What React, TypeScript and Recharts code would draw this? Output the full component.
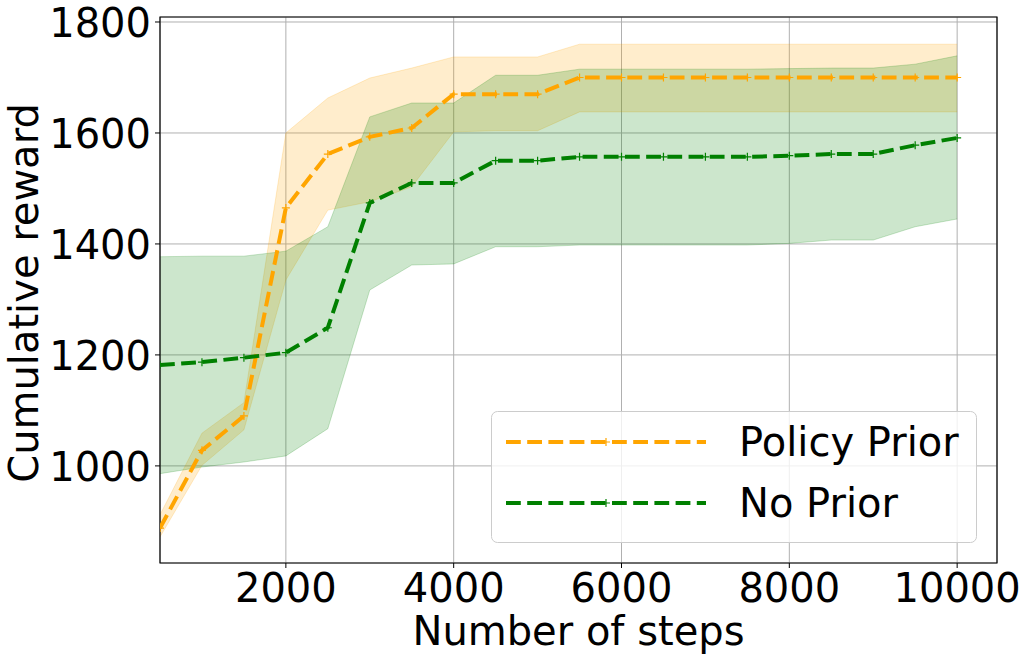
import React from 'react';
import { ComposedChart, Area, Line, XAxis, YAxis, CartesianGrid, ReferenceArea, Legend } from 'recharts';

const steps = [500, 1000, 1500, 2000, 2500, 3000, 3500, 4000, 4500, 5000, 5500, 6000, 6500, 7000, 7500, 8000, 8500, 9000, 9500, 10000];
const policyMean = [888, 1028, 1090, 1465, 1562, 1593, 1609, 1670, 1670, 1670, 1700, 1700, 1700, 1700, 1700, 1700, 1700, 1700, 1700, 1700];
const policyLow = [872, 1001, 1065, 1335, 1461, 1476, 1503, 1602, 1604, 1604, 1638, 1638, 1638, 1638, 1638, 1638, 1638, 1638, 1638, 1638];
const policyHigh = [912, 1059, 1114, 1600, 1663, 1699, 1717, 1737, 1737, 1737, 1760, 1760, 1760, 1760, 1760, 1760, 1760, 1760, 1760, 1760];
const noPriorMean = [1182, 1187, 1195, 1204, 1249, 1474, 1510, 1510, 1550, 1550, 1557, 1557, 1557, 1557, 1557, 1559, 1562, 1562, 1578, 1591];
const noPriorLow = [986, 998, 1007, 1018, 1067, 1317, 1362, 1364, 1395, 1395, 1398, 1398, 1398, 1398, 1398, 1401, 1407, 1407, 1431, 1445];
const noPriorHigh = [1377, 1378, 1378, 1387, 1431, 1629, 1654, 1654, 1704, 1704, 1715, 1715, 1715, 1715, 1715, 1716, 1717, 1717, 1724, 1739];

const xTicks = [2000, 4000, 6000, 8000, 10000];
const yTicks = [1000, 1200, 1400, 1600, 1800];
const seriesNames = ['Policy Prior', 'No Prior'];
const xLabel = 'Number of steps';
const yLabel = 'Cumulative reward';

const ORANGE = '#FFA500';
const GREEN = '#008000';
const FONT = 'DejaVu Sans';
const FS = 40;

const data = steps.map((s, i) => ({
  step: s,
  pMean: policyMean[i],
  pBand: [policyLow[i], policyHigh[i]],
  gMean: noPriorMean[i],
  gBand: [noPriorLow[i], noPriorHigh[i]],
}));

const plusDot = (color: string) => (props: any) => {
  const { cx, cy, index } = props;
  if (cx == null || cy == null) return <g key={index} />;
  return (
    <path key={index} d={`M${cx - 4},${cy}h8M${cx},${cy - 4}v8`} stroke={color} strokeWidth={1.2} fill="none" />
  );
};

const XTick = (props: any) => {
  const { x, y, payload } = props;
  return (
    <text x={x} y={y} dy={31} textAnchor="middle" fontFamily={FONT} fontSize={FS} fill="#000">
      {payload.value}
    </text>
  );
};

const YTick = (props: any) => {
  const { x, y, payload } = props;
  return (
    <text x={x} y={y} dy={15} textAnchor="end" fontFamily={FONT} fontSize={FS} fill="#000">
      {payload.value}
    </text>
  );
};

const XLabel = (props: any) => {
  const vb = props.viewBox || {};
  const cx = (vb.x ?? 160) + (vb.width ?? 837) / 2;
  return (
    <text x={cx} y={645} textAnchor="middle" fontFamily={FONT} fontSize={FS} fill="#000">
      {xLabel}
    </text>
  );
};

const YLabel = (props: any) => {
  const vb = props.viewBox || {};
  const cy = (vb.y ?? 17) + (vb.height ?? 546) / 2 + 3;
  return (
    <text x={38} y={cy} transform={`rotate(-90, 38, ${cy})`} textAnchor="middle" fontFamily={FONT} fontSize={FS} fill="#000">
      {yLabel}
    </text>
  );
};

const LegendBox = () => {
  const colors = [ORANGE, GREEN];
  return (
    <svg width={487} height={133} style={{ display: 'block' }}>
      <rect x={0.5} y={0.5} width={485} height={131} rx={6} ry={6} fill="rgba(255,255,255,0.8)" stroke="#cccccc" strokeWidth={1} />
      {seriesNames.map((n, i) => {
        const y = 31 + i * 61;
        return (
          <g key={n}>
            <line x1={15} x2={215} y1={y} y2={y} stroke={colors[i]} strokeWidth={4} strokeDasharray="14.8 6.4" />
            <path d={`M${111},${y}h8M${115},${y - 4}v8`} stroke={colors[i]} strokeWidth={1.2} />
            <text x={248} y={y + 14} fontFamily={FONT} fontSize={FS} fill="#000">{n}</text>
          </g>
        );
      })}
    </svg>
  );
};

export default function App() {
  return (
    <div style={{ position: 'absolute', left: 0, top: 0, width: 1028, height: 661, background: '#fff' }}>
      <ComposedChart width={1028} height={661} data={data} margin={{ top: 17, right: 31, left: 0, bottom: 0 }}>
        <CartesianGrid stroke="#b0b0b0" strokeWidth={1} />
        <XAxis
          dataKey="step"
          type="number"
          domain={[500, 10475]}
          ticks={xTicks}
          allowDataOverflow
          height={98}
          tickSize={5}
          tickMargin={3}
          tickLine={{ stroke: '#000' }}
          axisLine={false}
          tick={<XTick />}
          label={<XLabel />}
        />
        <YAxis
          type="number"
          domain={[825, 1809]}
          ticks={yTicks}
          allowDataOverflow
          width={160}
          tickSize={5}
          tickMargin={4}
          tickLine={{ stroke: '#000' }}
          axisLine={false}
          tick={<YTick />}
          label={<YLabel />}
        />
        <Area dataKey="pBand" type="linear" fill={ORANGE} fillOpacity={0.2} stroke={ORANGE} strokeOpacity={0.2} strokeWidth={1} isAnimationActive={false} legendType="none" activeDot={false} />
        <Area dataKey="gBand" type="linear" fill={GREEN} fillOpacity={0.2} stroke={GREEN} strokeOpacity={0.2} strokeWidth={1} isAnimationActive={false} legendType="none" activeDot={false} />
        <Line dataKey="pMean" name={seriesNames[0]} type="linear" stroke={ORANGE} strokeWidth={4} strokeDasharray="14.8 6.4" dot={plusDot(ORANGE)} activeDot={false} isAnimationActive={false} />
        <Line dataKey="gMean" name={seriesNames[1]} type="linear" stroke={GREEN} strokeWidth={4} strokeDasharray="14.8 6.4" dot={plusDot(GREEN)} activeDot={false} isAnimationActive={false} />
        <ReferenceArea x1={500} x2={10475} y1={825} y2={1809} fill="none" stroke="#000" strokeWidth={1.2} ifOverflow="visible" />
        <Legend
          layout="vertical"
          align="center"
          verticalAlign="middle"
          content={<LegendBox />}
          wrapperStyle={{ position: 'absolute', left: 491, top: 411, width: 487, height: 133 }}
        />
      </ComposedChart>
    </div>
  );
}
